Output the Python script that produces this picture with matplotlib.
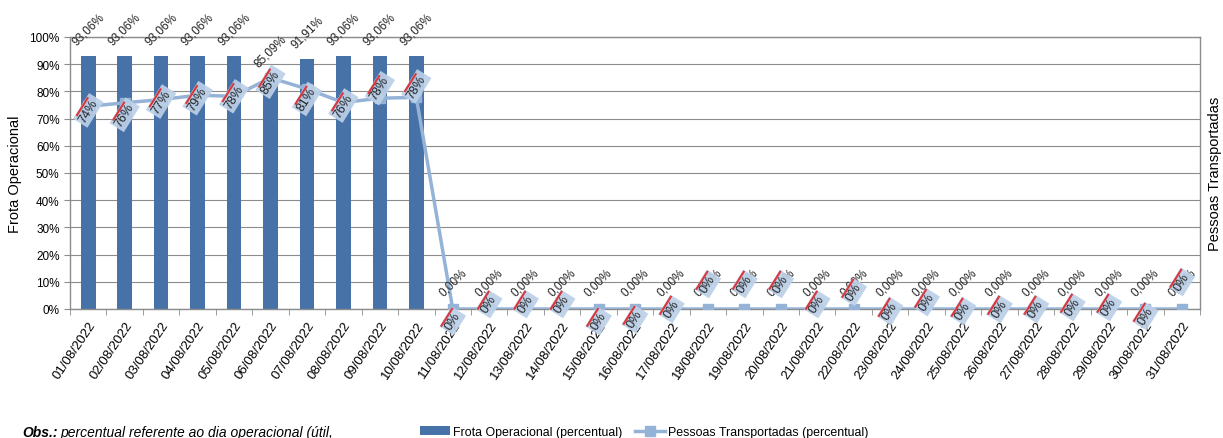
import numpy as np
import matplotlib
matplotlib.use("Agg")
import matplotlib.pyplot as plt
import matplotlib.transforms as mtransforms
from matplotlib.lines import Line2D

plt.rcParams['font.family'] = ['Liberation Sans', 'DejaVu Sans']

# Data
dias = [f"{d:02d}/08/2022" for d in range(1, 32)]
frota = [93.06, 93.06, 93.06, 93.06, 93.06, 85.09, 91.91, 93.06, 93.06, 93.06] + [0.0] * 21
pessoas = [74.5, 75.8, 77.0, 78.6, 78.2, 85.0, 80.9, 75.9, 77.5, 77.8] + [0.0] * 21
pessoas_txt = ["74%", "76%", "77%", "79%", "78%", "85%", "81%", "76%", "78%", "78%"] + ["0%"] * 21

# label placement (pixels, image y-down) for the line labels, like excel put them
lbl_dy = [4, 12, 2, 3, 0, 4, 10, 3, -10, -11,
          12, -5, -5, -5, 12, 10, 0, -25, -25, -25, -5,
          -17, 2, -7, 2, 0, 0, -2, -2, 7, -27]

bar_color = '#4672A8'
line_color = '#95B3D7'
grid_color = '#8C8C8C'

fig = plt.figure(figsize=(12.23, 4.39), dpi=100)
ax = fig.add_axes([70 / 1223, 1 - 310 / 439, 1130 / 1223, 272 / 439])

x = np.arange(len(dias))
bars = ax.bar(x, frota, width=0.4, color=bar_color, zorder=2,
              label='Frota Operacional (percentual)')
line, = ax.plot(x, pessoas, color=line_color, lw=2.5, marker='s', markersize=7,
                zorder=3, label='Pessoas Transportadas (percentual)')

ax.set_xlim(-0.5, len(dias) - 0.5)
ax.set_ylim(0, 100)
ax.set_yticks(np.arange(0, 101, 10))
ax.set_yticklabels([f"{v}%" for v in range(0, 101, 10)], fontsize=8.5)
ax.set_xticks(x)
ax.set_xticklabels(dias, rotation=56, ha='right', rotation_mode='anchor', fontsize=9.5)
ax.set_xticks(np.arange(-0.5, len(dias), 1), minor=True)
ax.tick_params(axis='x', which='major', length=0, pad=7)
ax.tick_params(axis='x', which='minor', length=4, color=grid_color)
ax.tick_params(axis='y', length=4, color=grid_color)
ax.yaxis.grid(True, color=grid_color, lw=0.8, zorder=0)
ax.set_axisbelow(True)
for s in ax.spines.values():
    s.set_color(grid_color)
    s.set_linewidth(1)

# bar labels
for i, v in enumerate(frota):
    ax.annotate(f"{v:.2f}%".replace('.', ','), (i, v), xytext=(0, 27),
                textcoords='offset pixels', rotation=45, ha='center', va='center',
                fontsize=8.5, color='#222222', zorder=4)

# line labels with the light blue boxes and the red stroke
ang = np.deg2rad(58)
u = np.array([np.cos(ang), np.sin(ang)])
n = np.array([-np.sin(ang), np.cos(ang)])
for i, (v, t) in enumerate(zip(pessoas, pessoas_txt)):
    dy = -lbl_dy[i]
    ax.annotate(t, (i, v), xytext=(0, dy), textcoords='offset pixels',
                rotation=58, ha='center', va='center', fontsize=9, color='#222222',
                bbox=dict(boxstyle='square,pad=0.2', fc='#BCD0E8', ec='none', alpha=0.92),
                zorder=5)
    c = np.array([0, dy]) + n * 7
    p0 = c - u * 10
    p1 = c + u * 10
    tr = mtransforms.Affine2D() + mtransforms.ScaledTranslation(i, v, ax.transData)
    ax.add_line(Line2D([p0[0], p1[0]], [p0[1], p1[1]], color='#D9373B', lw=1.5,
                       transform=tr, zorder=6, clip_on=False))

fig.text(15 / 1223, 1 - 174 / 439, 'Frota Operacional', rotation=90,
         ha='center', va='center', fontsize=10.5)
fig.text(1215 / 1223, 1 - 174 / 439, 'Pessoas Transportadas', rotation=90,
         ha='center', va='center', fontsize=10.5)

fig.legend(handles=[bars, line], loc='center left',
           bbox_to_anchor=(420 / 1223, 1 - 433 / 439), ncol=2,
           frameon=False, fontsize=8.9, handlelength=2.4, columnspacing=1.0,
           handletextpad=0.3, borderpad=0, borderaxespad=0)

fig.text(22 / 1223, 1 - 433 / 439, 'Obs.:', fontsize=10, fontweight='bold',
         fontstyle='italic', ha='left', va='center')
fig.text(60 / 1223, 1 - 433 / 439, 'percentual referente ao dia operacional (útil,',
         fontsize=10, fontstyle='italic', ha='left', va='center')

fig.savefig('out.png', dpi=100)
